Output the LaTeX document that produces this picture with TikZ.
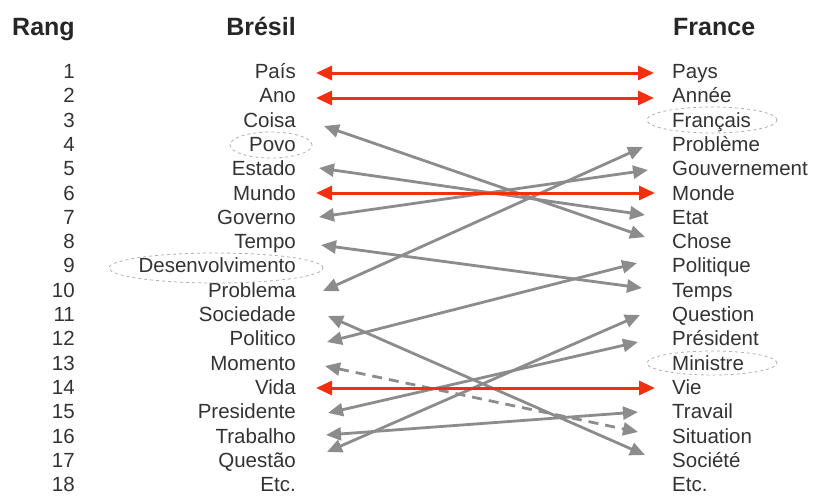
\documentclass[tikz,border=0pt]{standalone}
\usepackage{fontspec}
\setmainfont{Liberation Sans}
\usetikzlibrary{arrows.meta,shapes.geometric}
\definecolor{redarr}{HTML}{F2300F}
\definecolor{grayarr}{HTML}{8C8C8C}
\definecolor{txt}{HTML}{333333}
\definecolor{circline}{HTML}{B0B0B0}
\begin{document}
\begin{tikzpicture}[x=1pt,y=-1pt,
  lbl/.style={font=\fontsize{20.5}{24}\selectfont, text=txt, inner sep=0pt},
  head/.style={font=\bfseries\fontsize{25}{30}\selectfont, text=black!85, inner sep=0pt},
  redlink/.style={draw=redarr, line width=3pt, {Triangle[length=16pt,width=14pt]}-{Triangle[length=16pt,width=14pt]}},
  graylink/.style={draw=grayarr, line width=2.8pt, {Triangle[length=15pt,width=13pt]}-{Triangle[length=15pt,width=13pt]}},
  dashlink/.style={graylink, dash pattern=on 10pt off 7pt},
  circ/.style={draw=circline, dashed, line width=0.8pt}]
\useasboundingbox[fill=white] (0,0) rectangle (813,495);
% headings
\node[head, anchor=base west] (hr) at (12,36) {Rang};
\node[head, anchor=base east] (hb) at (296,36) {Brésil};
\node[head, anchor=base west] (hf) at (673,36) {France};
% rows
\foreach \n/\bw/\fw in {1/País/Pays, 2/Ano/Année, 3/Coisa/Français, 4/Povo/Problème,
  5/Estado/Gouvernement, 6/Mundo/Monde, 7/Governo/Etat, 8/Tempo/Chose,
  9/Desenvolvimento/Politique, 10/Problema/Temps, 11/Sociedade/Question,
  12/Politico/Président, 13/Momento/Ministre, 14/Vida/Vie, 15/Presidente/Travail,
  16/Trabalho/Situation, 17/Questão/Société, 18/Etc./Etc.}{
  \node[lbl, anchor=base east] (r\n) at (75, {78.5+(\n-1)*24.3}) {\n};
  \node[lbl, anchor=base east] (b\n) at (296, {78.5+(\n-1)*24.3}) {\bw};
  \node[lbl, anchor=base west] (f\n) at (672, {78.5+(\n-1)*24.3}) {\fw};
}
% dashed ellipses
\draw[circ] (271,145) ellipse [x radius=41pt, y radius=13pt];
\draw[circ] (216,268) ellipse [x radius=107pt, y radius=15pt];
\draw[circ] (712,120) ellipse [x radius=65pt, y radius=13pt];
\draw[circ] (712,363) ellipse [x radius=65pt, y radius=12pt];
% arrow end points
\coordinate (L1) at (316,73);
\coordinate (L2) at (316,98);
\coordinate (L3) at (324,126);
\coordinate (L5) at (319,168);
\coordinate (L6) at (316,193);
\coordinate (L7) at (319,217);
\coordinate (L8) at (321,245);
\coordinate (L10) at (323,291);
\coordinate (L11) at (328,316);
\coordinate (L12) at (327,342);
\coordinate (L13) at (325,366);
\coordinate (L14) at (316,388);
\coordinate (L15) at (328,413);
\coordinate (L16) at (326,435);
\coordinate (L17) at (327,452);
\coordinate (R1) at (654,73);
\coordinate (R2) at (654,98);
\coordinate (R4) at (643,147);
\coordinate (R5) at (648,170);
\coordinate (R6) at (655,193);
\coordinate (R7) at (645,215);
\coordinate (R8) at (645,237);
\coordinate (R9) at (637,263);
\coordinate (R10) at (642,288);
\coordinate (R11) at (640,315);
\coordinate (R12) at (638,342);
\coordinate (R14) at (655,388);
\coordinate (R15) at (638,412);
\coordinate (R16) at (638,432);
\coordinate (R17) at (645,455);
% gray links
\draw[graylink] (L3) -- (R8);
\draw[graylink] (L5) -- (R7);
\draw[graylink] (L7) -- (R5);
\draw[graylink] (L8) -- (R10);
\draw[graylink] (L10) -- (R4);
\draw[graylink] (L11) -- (R17);
\draw[graylink] (L12) -- (R9);
\draw[dashlink] (L13) -- (R16);
\draw[graylink] (L15) -- (R12);
\draw[graylink] (L16) -- (R15);
\draw[graylink] (L17) -- (R11);
% red links
\draw[redlink] (L1) -- (R1);
\draw[redlink] (L2) -- (R2);
\draw[redlink] (L6) -- (R6);
\draw[redlink] (L14) -- (R14);
\end{tikzpicture}
\end{document}
